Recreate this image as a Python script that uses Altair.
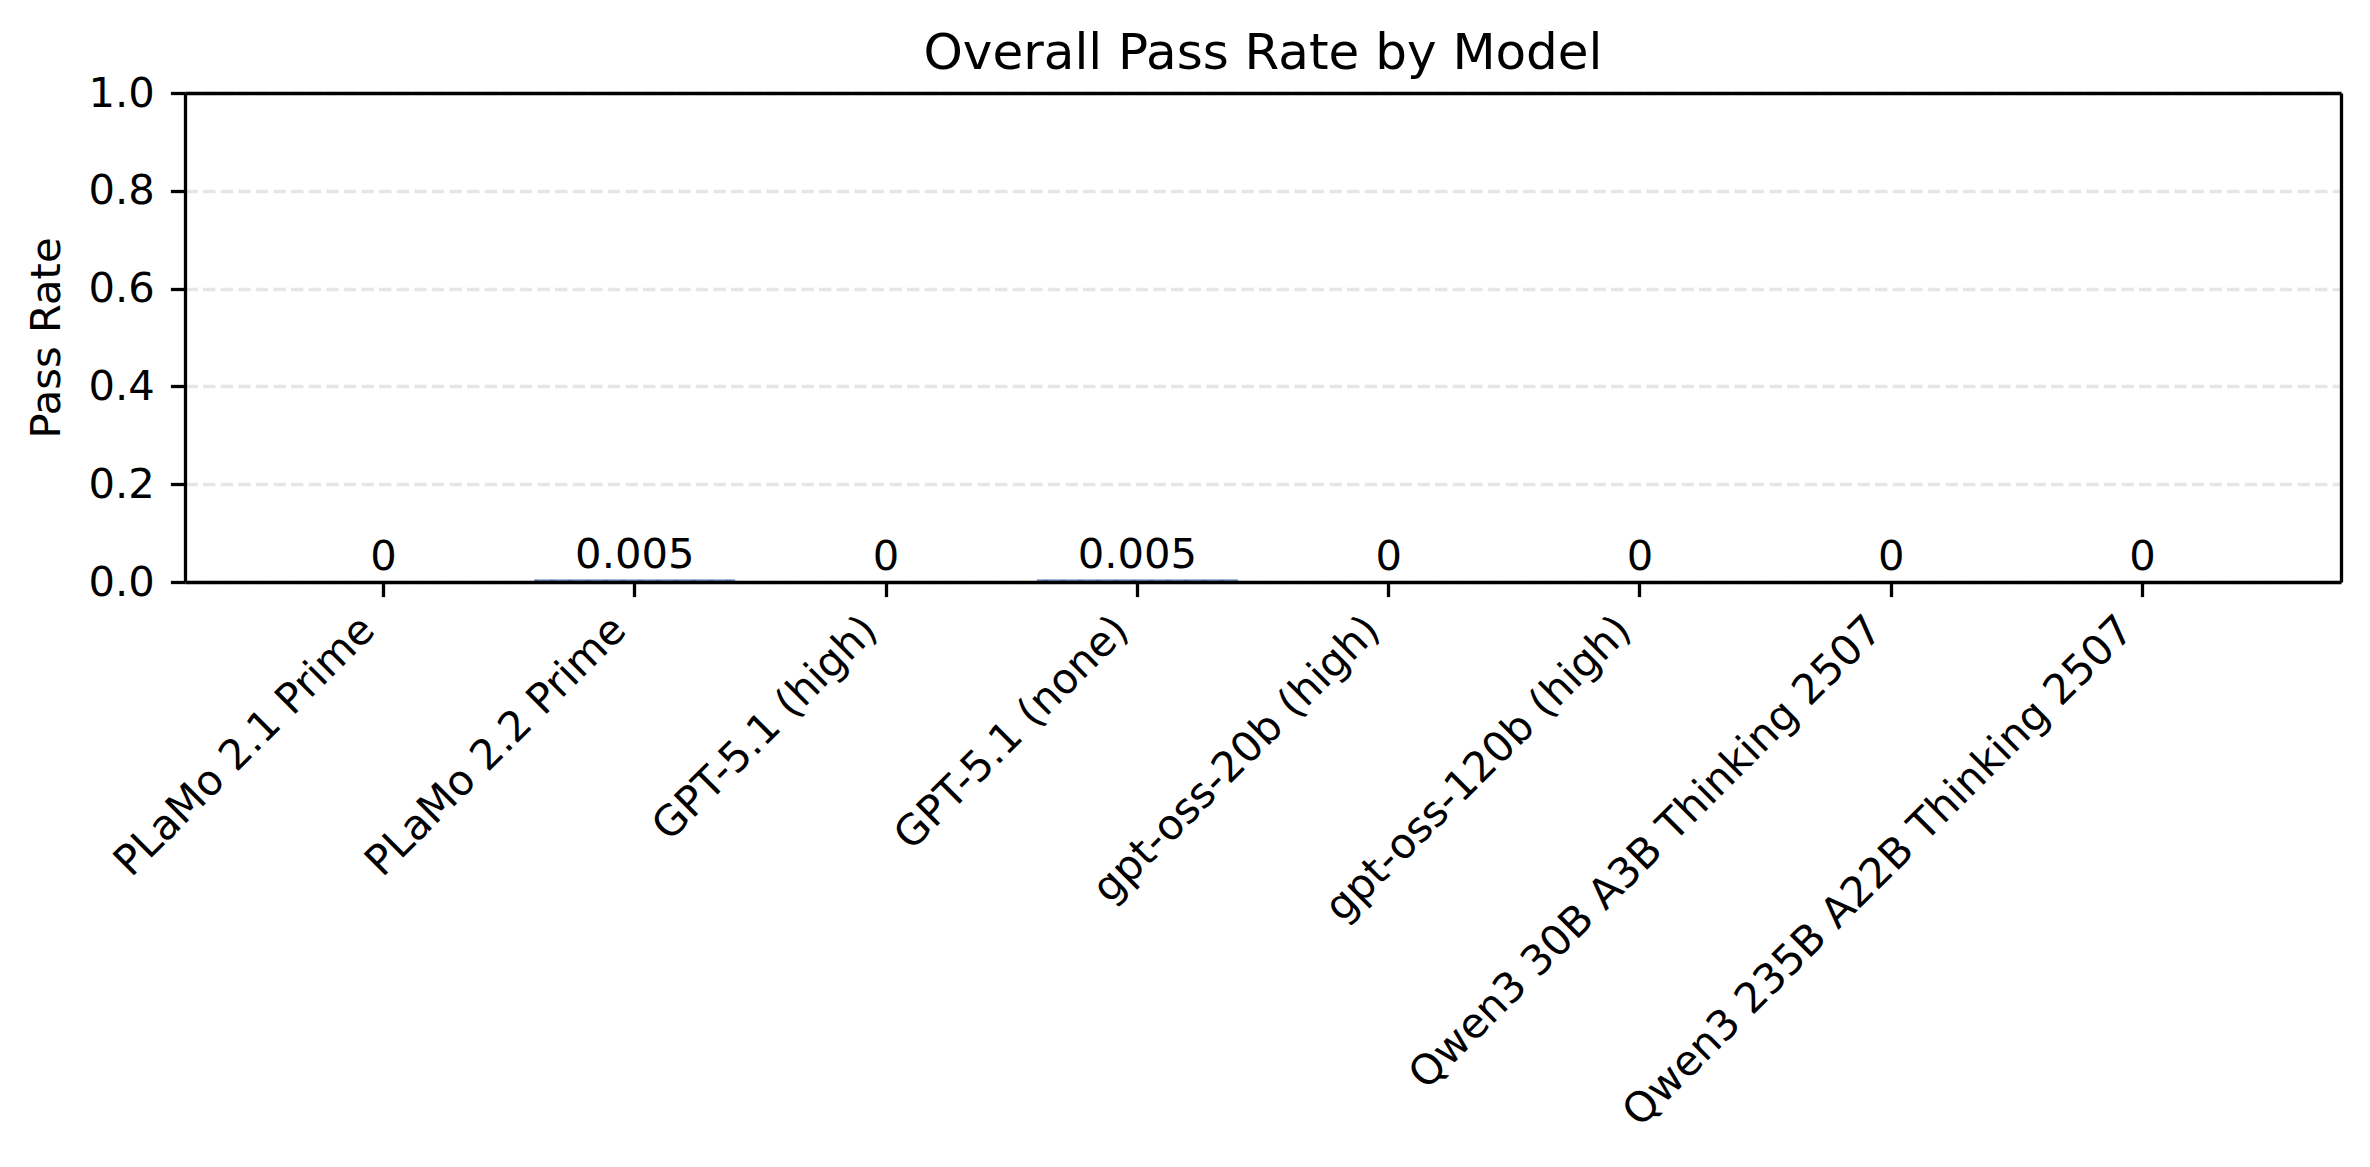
import altair as alt
import pandas as pd

models = [
    "PLaMo 2.1 Prime",
    "PLaMo 2.2 Prime",
    "GPT-5.1 (high)",
    "GPT-5.1 (none)",
    "gpt-oss-20b (high)",
    "gpt-oss-120b (high)",
    "Qwen3 30B A3B Thinking 2507",
    "Qwen3 235B A22B Thinking 2507",
]
rates = [0, 0.005, 0, 0.005, 0, 0, 0, 0]
y_ticks = [0.0, 0.2, 0.4, 0.6, 0.8, 1.0]

df = pd.DataFrame({"model": models, "rate": rates})

FONT = "DejaVu Sans"
FS = 41.7
LW = 3.3

x_scale = alt.Scale(paddingInner=0.2, paddingOuter=0.39)
y_scale = alt.Scale(domain=[0, 1], nice=False, zero=True)

x_enc = alt.X(
    "model:N",
    sort=models,
    title=None,
    scale=x_scale,
    axis=alt.Axis(
        labelAngle=315,
        labelAlign="right",
        labelBaseline="top",
        labelOffset=-30,
        labelPadding=12,
        labelFontSize=FS,
        labelFont=FONT,
        labelColor="black",
        labelLimit=2000,
        labelOverlap=False,
        tickSize=14.6,
        tickWidth=LW,
        tickColor="black",
        domainColor="black",
        domainWidth=LW,
        grid=False,
        zindex=2,
    ),
)

y_enc = alt.Y(
    "rate:Q",
    title="Pass Rate",
    scale=y_scale,
    axis=alt.Axis(
        values=y_ticks,
        format=".1f",
        labelFontSize=FS,
        labelFont=FONT,
        labelColor="black",
        labelPadding=16,
        tickSize=14.6,
        tickWidth=LW,
        tickColor="black",
        domainColor="black",
        domainWidth=LW,
        grid=True,
        gridColor="#e6e6e6",
        gridWidth=LW,
        gridDash=[12.3, 5.3],
        titleFontSize=FS,
        titleFont=FONT,
        titleFontWeight="normal",
        titleColor="black",
        titlePadding=20,
        zindex=1,
    ),
)

bars = alt.Chart(df).mark_bar(color="#4C72B0").encode(x=x_enc, y=y_enc)

texts = alt.Chart(df).mark_text(
    font=FONT, fontSize=FS, color="black", baseline="alphabetic", dy=-12
).encode(
    x=alt.X("model:N", sort=models, axis=None),
    y=alt.Y("rate:Q", axis=None),
    text=alt.Text("rate:Q", format="~g"),
)

frame = alt.Chart(df).mark_bar(opacity=0).encode(
    x=alt.X(
        "model:N",
        sort=models,
        title=None,
        axis=alt.Axis(
            orient="top", labels=False, ticks=False, grid=False,
            domainColor="black", domainWidth=LW, zindex=2,
        ),
    ),
    y=alt.Y(
        "rate:Q",
        title=None,
        axis=alt.Axis(
            orient="right", labels=False, ticks=False, grid=False,
            domainColor="black", domainWidth=LW, zindex=2,
        ),
    ),
)

chart = (
    alt.layer(bars, texts, frame)
    .resolve_axis(x="independent", y="independent")
    .properties(
        width=2156,
        height=489,
        title=alt.TitleParams(
            "Overall Pass Rate by Model",
            font=FONT,
            fontSize=50,
            fontWeight="normal",
            color="black",
            anchor="middle",
            frame="group",
            offset=15,
            dy=21,
        ),
        autosize=alt.AutoSizeParams(type="none"),
        padding={"left": 177, "top": 85, "right": 15, "bottom": 560},
    )
    .configure_view(strokeWidth=0)
    .configure(background="white")
)

chart.save("out.html", embed_options={"renderer": "svg", "actions": False})
